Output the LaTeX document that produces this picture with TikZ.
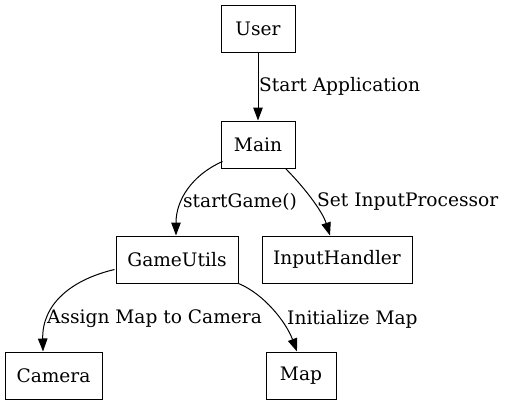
\documentclass[tikz,border=0pt]{standalone}
\usepackage{fontspec}
\setmainfont{DejaVu Serif}
\usetikzlibrary{arrows.meta}
\begin{document}
\begin{tikzpicture}[x=1pt,y=-1pt,
  box/.style={draw,line width=1pt,minimum height=47pt,inner sep=0pt,font=\fontsize{18.6}{22}\selectfont},
  lbl/.style={anchor=west,inner sep=0pt,font=\fontsize{18.6}{22}\selectfont},
  conn/.style={line width=1pt,-{Triangle[length=13pt,width=9.5pt]}}]
\useasboundingbox (0,0) rectangle (507,407);
\node[box,minimum width=74pt] (user) at (258,28.5) {User};
\node[box,minimum width=74pt] (main) at (258,144.5) {Main};
\node[box,minimum width=122pt] (gu) at (177,259.5) {GameUtils};
\node[box,minimum width=150pt] (ih) at (337,259.5) {InputHandler};
\node[box,minimum width=97pt] (cam) at (53.5,375.5) {Camera};
\node[box,minimum width=70pt] (map) at (301,375.5) {Map};
\draw[conn] (user) -- (main);
\draw[conn] (main.south west) ++(2,-7) coordinate (s1) (s1) .. controls (192,175) and (176,200) .. (gu.north -| 176,0);
\draw[conn] (main.south east) ++(-10,0) coordinate (s2) (s2) .. controls (302,185) and (322,210) .. (ih.north -| 330,0);
\draw[conn] (gu.west) ++(-1,10) coordinate (s3) (s3) .. controls (70,280) and (42,305) .. (cam.north -| 43,0);
\draw[conn] (gu.south east) ++(0,0) coordinate (s4) (s4) .. controls (264,294) and (286,322) .. (map.north -| 297,0);
\node[lbl] (l1) at (259,86) {Start Application};
\node[lbl] (l2) at (183,202) {startGame()};
\node[lbl] (l3) at (317,202) {Set InputProcessor};
\node[lbl] (l4) at (47,319) {Assign Map to Camera};
\node[lbl] (l5) at (287,319) {Initialize Map};
\end{tikzpicture}
\end{document}
